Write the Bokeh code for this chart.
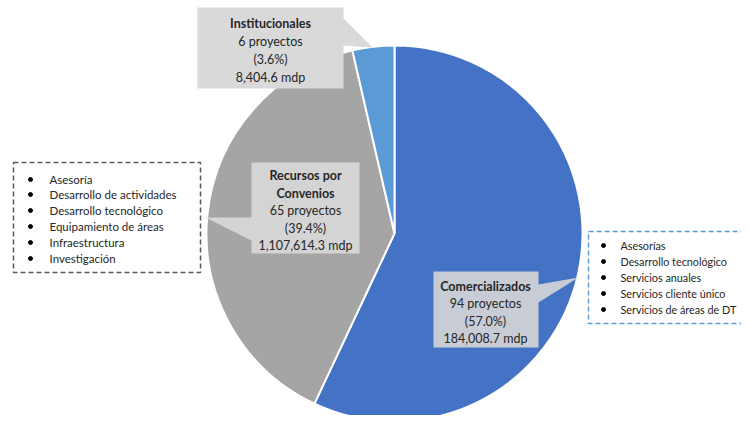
from bokeh.plotting import figure
from bokeh.models import Range1d, ColumnDataSource
from bokeh.core.properties import value
from bokeh.embed import file_html
from bokeh.resources import INLINE
import numpy as np

# ---- data ----
categories = ["Comercializados", "Recursos por\nConvenios", "Institucionales"]
projects = [94, 65, 6]
percents = [57.0, 39.4, 3.6]
amounts = ["184,008.7", "1,107,614.3", "8,404.6"]
slice_colors = ["#4472C4", "#A5A5A5", "#5B9BD5"]

left_items = ["Asesoría", "Desarrollo de actividades", "Desarrollo tecnológico",
              "Equipamiento de áreas", "Infraestructura", "Investigación"]
right_items = ["Asesorías", "Desarrollo tecnológico", "Servicios anuales",
               "Servicios cliente único", "Servicios de áreas de DT"]

H = 423  # image height, data y = H - image y

def Y(v):
    return H - v

W_FIG, H_FIG = 741, 415
p = figure(width=W_FIG, height=H_FIG, output_backend="svg", toolbar_location=None,
           x_range=Range1d(0, W_FIG), y_range=Range1d(Y(H_FIG), Y(0)),
           min_border=0)
p.axis.visible = False
p.grid.visible = False
p.outline_line_color = None
p.background_fill_color = "white"

# ---- pie ----
cx, cy, r = 394, Y(233), 188
fr = np.array(percents) / sum(percents)
cum = np.concatenate([[0], np.cumsum(fr)])
starts = np.pi / 2 - cum[:-1] * 2 * np.pi
ends = np.pi / 2 - cum[1:] * 2 * np.pi
src = ColumnDataSource(dict(start=starts, end=ends, color=slice_colors))
p.wedge(x=cx, y=cy, radius=r, start_angle="start", end_angle="end",
        direction="clock", fill_color="color", line_color="white",
        line_width=2, source=src)

# ---- callouts ----
def poly(pts, color):
    xs = [a for a, b in pts]
    ys = [Y(b) for a, b in pts]
    p.patch(xs, ys, fill_color=color, line_color=None)

poly([(197, 7), (343, 7), (343, 18), (372, 47), (343, 45), (343, 88), (197, 88)], "#D9D9D9")
poly([(251, 162), (359, 162), (359, 253), (251, 253), (251, 240), (205, 217), (251, 217)], "#D4D4D4")
poly([(433, 271), (538, 271), (538, 284), (578, 277), (538, 302), (538, 347), (433, 347)], "#C8CCD5")

label_pos = [(485, [286, 303, 321, 338]),
             (305, [175, 193, 210, 228, 245]),
             (270, [23, 41, 59, 77])]
tc = "#262626"
for i, (lx, ys) in enumerate(label_pos):
    title_lines = categories[i].split("\n")
    lines = title_lines + [f"{projects[i]} proyectos", f"({percents[i]:.1f}%)", f"{amounts[i]} mdp"]
    for j, (t, yy) in enumerate(zip(lines, ys)):
        p.text(x=[lx], y=[Y(yy)], text=[t], text_align="center", text_baseline="middle",
               text_font=value("Lato"), text_font_size="12.5px", text_color=tc,
               text_font_style="bold" if j < len(title_lines) else "normal")

# ---- legend boxes ----
def dashed_box(x0, y0, x1, y1, color):
    p.quad(left=[x0], right=[x1], top=[Y(y0)], bottom=[Y(y1)], fill_color=None,
           line_color=color, line_width=1.5, line_dash="5 3")

dashed_box(13, 162, 200, 272, "#595959")
dashed_box(588, 231, 748, 323, "#5B9BD5")

lrows = [179, 194, 210, 226, 242, 258]
p.scatter(x=[30] * len(left_items), y=[Y(v) for v in lrows], size=4, color="black")
p.text(x=[49] * len(left_items), y=[Y(v) for v in lrows], text=left_items,
       text_baseline="middle", text_font=value("Lato"), text_font_size="11.5px", text_color=tc)

rrows = [245, 261, 277, 293, 309]
p.scatter(x=[603] * len(right_items), y=[Y(v) for v in rrows], size=4, color="black")
p.text(x=[620] * len(right_items), y=[Y(v) for v in rrows], text=right_items,
       text_baseline="middle", text_font=value("Lato"), text_font_size="10.8px", text_color=tc)

open("out.html", "w").write(file_html(p, INLINE))
